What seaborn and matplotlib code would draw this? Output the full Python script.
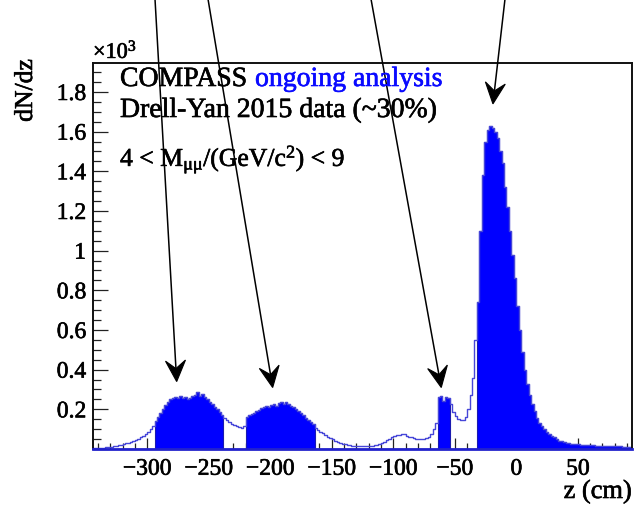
import numpy as np
import pandas as pd
import matplotlib
matplotlib.use("Agg")
import matplotlib.pyplot as plt
import matplotlib.patheffects as pe
import seaborn as sns
from matplotlib.ticker import MultipleLocator, FuncFormatter
from matplotlib.patches import Polygon
from matplotlib.lines import Line2D
from matplotlib.transforms import IdentityTransform

sns.set_theme(style="ticks")
plt.rcParams["font.family"] = ["Liberation Serif", "DejaVu Serif"]
plt.rcParams["mathtext.fontset"] = "custom"
plt.rcParams["mathtext.rm"] = "Liberation Serif"
plt.rcParams["mathtext.it"] = "Liberation Serif:italic"
plt.rcParams["axes.unicode_minus"] = True
plt.rcParams["text.color"] = "black"
plt.rcParams["xtick.labelcolor"] = "black"
plt.rcParams["ytick.labelcolor"] = "black"

# Vertex z distribution, 2 cm bins starting at z = -344 cm; dN/dz in units of 10^3
z_first_edge = -344
bin_width = 2

upstream_tail = [0.003, 0.004, 0.005, 0.005, 0.007, 0.008, 0.010, 0.012, 0.014, 0.016,
                 0.019, 0.022, 0.024, 0.028, 0.031, 0.036, 0.041, 0.046, 0.052, 0.058,
                 0.066, 0.075, 0.088, 0.102, 0.118]
cell_1 = [0.140, 0.160, 0.180, 0.200, 0.220, 0.235, 0.250, 0.255, 0.262, 0.258,
          0.265, 0.255, 0.260, 0.252, 0.258, 0.268, 0.270, 0.285, 0.268, 0.275,
          0.260, 0.252, 0.238, 0.228, 0.212, 0.200, 0.185, 0.170]
cell_gap = [0.158, 0.145, 0.135, 0.128, 0.120, 0.115, 0.110, 0.108, 0.118]
cell_2 = [0.160, 0.170, 0.178, 0.182, 0.190, 0.198, 0.205, 0.210, 0.215, 0.212,
          0.222, 0.225, 0.218, 0.232, 0.238, 0.228, 0.235, 0.225, 0.215, 0.212,
          0.200, 0.190, 0.182, 0.170, 0.158, 0.148, 0.138, 0.125]
mid_region = [0.108, 0.098, 0.088, 0.080, 0.070, 0.062, 0.055, 0.048, 0.042, 0.036,
              0.031, 0.027, 0.024, 0.020, 0.018, 0.017, 0.015, 0.016, 0.014, 0.015,
              0.013, 0.014, 0.015, 0.016, 0.018, 0.020, 0.024, 0.030, 0.036, 0.045,
              0.050, 0.058, 0.064, 0.070, 0.072, 0.078, 0.074, 0.068, 0.062, 0.060,
              0.055, 0.052, 0.050, 0.050, 0.052, 0.055, 0.062, 0.075, 0.100, 0.130]
aluminium = [0.262, 0.265, 0.240, 0.262, 0.258]
absorber_gap = [0.225, 0.185, 0.165, 0.152, 0.145, 0.148, 0.162, 0.200, 0.270, 0.360, 0.550]
tungsten = [0.74, 1.10, 1.38, 1.55, 1.61, 1.63, 1.62, 1.60, 1.57, 1.50,
            1.44, 1.32, 1.22, 1.10, 0.98, 0.86, 0.72, 0.60, 0.49, 0.40,
            0.33, 0.27, 0.225, 0.19, 0.155, 0.13, 0.115, 0.10, 0.088, 0.078,
            0.068, 0.060, 0.050, 0.042, 0.038, 0.033, 0.030, 0.028, 0.026, 0.025,
            0.024, 0.023, 0.022, 0.021, 0.020, 0.019, 0.019, 0.018, 0.017, 0.017,
            0.016, 0.016, 0.015, 0.015, 0.014, 0.014, 0.013, 0.013, 0.013, 0.012,
            0.012, 0.012, 0.011]

dndz = (upstream_tail + cell_1 + cell_gap + cell_2 + mid_region
        + aluminium + absorber_gap + tungsten)

# z ranges of the selected target regions (cm)
target_cuts = [(-294, -238), (-220, -164), (-64, -54), (-32, 94)]

n_bins = len(dndz)
z_lo = z_first_edge
z_hi = z_first_edge + bin_width * n_bins
centers = z_lo + bin_width * (np.arange(n_bins) + 0.5)
df = pd.DataFrame({"z": centers, "dndz": dndz})
in_cut = np.zeros(len(df), dtype=bool)
for lo, hi in target_cuts:
    in_cut |= ((df["z"] > lo) & (df["z"] < hi)).to_numpy()
df["dndz_cut"] = np.where(in_cut, df["dndz"], 0.0)

fig = plt.figure(figsize=(6.35, 5.06), dpi=100)
ax = fig.add_axes([93 / 635, 1 - 450 / 506, 539 / 635, 386 / 506])

hist_kw = dict(binwidth=bin_width, binrange=(z_lo, z_hi), element="step", ax=ax)
sns.histplot(data=df, x="z", weights="dndz_cut", fill=True, color="#0000ff",
             alpha=1.0, edgecolor="#1a1ab0", linewidth=0.8, **hist_kw)
sns.histplot(data=df, x="z", weights="dndz", fill=False, color="#4646d8",
             linewidth=1.0, **hist_kw)

ax.set_xlim(z_lo, z_hi)
ax.set_ylim(0, 1.946)
ax.set_xlabel("")
ax.set_ylabel("")

ax.xaxis.set_major_locator(MultipleLocator(50))
ax.xaxis.set_minor_locator(MultipleLocator(10))
ax.yaxis.set_major_locator(MultipleLocator(0.2))
ax.yaxis.set_minor_locator(MultipleLocator(0.05))
fmt = FuncFormatter(lambda v, p: f"{v:g}".replace("-", "\u2212"))
ax.xaxis.set_major_formatter(fmt)
ax.yaxis.set_major_formatter(FuncFormatter(lambda v, p: "" if abs(v) < 1e-9 else f"{v:g}"))

ax.tick_params(axis="both", which="both", direction="in", colors="#222222",
               labelcolor="black", labelsize=17, width=0.9)
ax.tick_params(axis="y", which="major", length=11, pad=5)
ax.tick_params(axis="y", which="minor", length=5.5)
ax.tick_params(axis="x", which="major", length=8, pad=7)
ax.tick_params(axis="x", which="minor", length=4)
ax.tick_params(top=False, right=False, which="both")

for side in ["left", "right", "top"]:
    ax.spines[side].set_color("#111111")
    ax.spines[side].set_linewidth(1.4)
ax.spines["bottom"].set_color("#2222cc")
ax.spines["bottom"].set_linewidth(2.0)

# slightly heavier glyph strokes for all labels
def heavy(color="black"):
    return [pe.withStroke(linewidth=0.45, foreground=color)]

for lab in ax.get_xticklabels() + ax.get_yticklabels():
    lab.set_path_effects(heavy())

# Axis titles and multiplier
fig.text(26 / 635, 1 - 60 / 506, "dN/dz", rotation=90, ha="center", va="top",
         fontsize=18.5, path_effects=heavy())
fig.text(632 / 635, 1 - 499 / 506, "z (cm)", ha="right", va="baseline", fontsize=19,
         path_effects=heavy())
fig.text(93 / 635, 1 - 59 / 506, "\u00d710$^{3}$", ha="left", va="baseline", fontsize=16,
         path_effects=heavy())

# Labels in the upper left
fig.text(120 / 635, 1 - 87 / 506, "COMPASS", ha="left", va="baseline", fontsize=20,
         path_effects=heavy())
fig.text(255 / 635, 1 - 87 / 506, "ongoing analysis", ha="left", va="baseline",
         fontsize=20, color="#0a0aff", path_effects=heavy("#0a0aff"))
fig.text(120 / 635, 1 - 118 / 506, "Drell-Yan 2015 data (~30%)", ha="left",
         va="baseline", fontsize=20, path_effects=heavy())
fig.text(120 / 635, 1 - 167 / 506,
         r"4 < M$_{\mathrm{\mu\mu}}$/(GeV/c$^{2}$) < 9", ha="left",
         va="baseline", fontsize=18.5, path_effects=heavy())

# Arrows marking the target regions (swept-back arrowheads drawn in pixel space)
arrow_tips = [(-276, 0.34), (-198, 0.31), (-61, 0.31), (-19, 1.74)]
arrow_tails = [155 / 635, 208 / 635, 371 / 635, 505 / 635]
head_len, head_half, notch = 21.0, 10.0, 13.0
for (zt, yt), xf in zip(arrow_tips, arrow_tails):
    tip = ax.transData.transform((zt, yt))
    tail = fig.transFigure.transform((xf, 1.0))
    d = (tip - tail) / np.hypot(*(tip - tail))
    n = np.array([-d[1], d[0]])
    back = tip - notch * d
    fig.add_artist(Line2D([tail[0], back[0]], [tail[1], back[1]], color="black",
                          lw=1.1, transform=IdentityTransform()))
    head = [tip, tip - head_len * d + head_half * n, back,
            tip - head_len * d - head_half * n]
    fig.add_artist(Polygon(head, closed=True, facecolor="black", edgecolor="black",
                           lw=0.8, transform=IdentityTransform()))

fig.savefig("out.png", dpi=100)
